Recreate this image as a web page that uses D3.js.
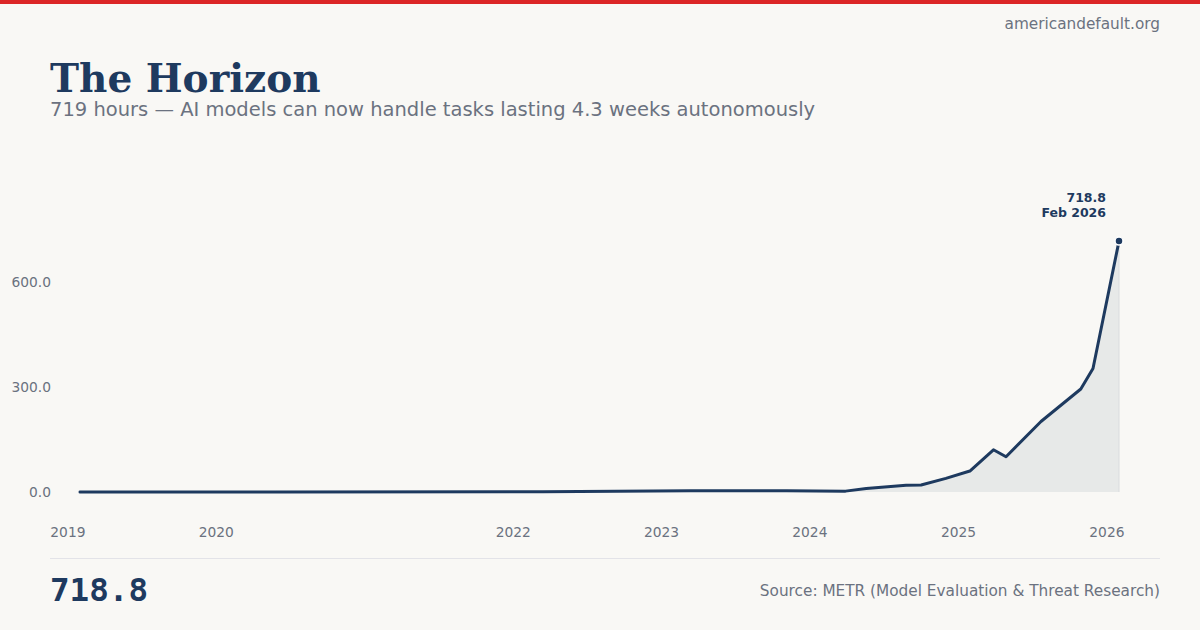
<!DOCTYPE html>
<html><head><meta charset="utf-8">
<script src="https://cdn.jsdelivr.net/npm/d3@7"></script>
<style>
html,body{margin:0;padding:0;background:#f9f8f5;}
svg{display:block;}
</style></head>
<body>
<svg id="chart" width="1200" height="630"></svg>
<script>
const dates = ["2019-02-01","2020-05-28","2022-03-15","2023-03-14","2023-11-06","2024-03-30","2024-05-20","2024-08-26","2024-10-02","2024-12-02","2025-01-30","2025-03-29","2025-04-29","2025-07-24","2025-10-30","2025-11-29","2026-02-01"];
const values = [0.1,0.2,0.5,3.5,3.8,2.5,10,19,20,39,60,121,101,202,295,354,718.8];
const yTicks = [0, 300, 600];
const xTickYears = [2019, 2020, 2022, 2023, 2024, 2025, 2026];
const title = "The Horizon";
const subtitle = "719 hours \u2014 AI models can now handle tasks lasting 4.3 weeks autonomously";
const site = "americandefault.org";
const source = "Source: METR (Model Evaluation & Threat Research)";
const lastLabel = "Feb 2026";

const parse = d3.timeParse("%Y-%m-%d");
const data = dates.map((d,i)=>({date:parse(d), value:values[i]}));
const svg = d3.select("#chart");
const navy = "#1e3a5f", gray = "#6b7280";

svg.append("rect").attr("x",0).attr("y",0).attr("width",1200).attr("height",630).attr("fill","#f9f8f5");
svg.append("rect").attr("x",0).attr("y",0).attr("width",1200).attr("height",4).attr("fill","#dc2626");

svg.append("text").attr("x",1160).attr("y",29).attr("text-anchor","end")
  .attr("font-family","DejaVu Sans").attr("font-size",15.3).attr("fill",gray).text(site);
svg.append("text").attr("x",50).attr("y",92)
  .attr("font-family","DejaVu Serif").attr("font-weight","bold").attr("font-size",39).attr("fill",navy).text(title);
svg.append("text").attr("x",50).attr("y",116)
  .attr("font-family","DejaVu Sans").attr("font-size",19.5).attr("fill",gray).text(subtitle);

const x = d3.scaleTime().domain(d3.extent(data,d=>d.date)).range([80,1119]);
const maxV = d3.max(values);
const y = d3.scaleLinear().domain([0, maxV*1.1]).range([492,216]);

const xAxis = d3.axisBottom(x).tickValues(xTickYears.map(yr=>new Date(yr,0,1))).tickFormat(d3.timeFormat("%Y")).tickSize(0);
const gx = svg.append("g").attr("transform","translate(0,524)").call(xAxis);
gx.select(".domain").remove();
gx.selectAll("text").attr("font-family","DejaVu Sans").attr("font-size",13.8).attr("fill",gray).attr("dy","0.71em");

const yAxis = d3.axisLeft(y).tickValues(yTicks).tickFormat(d3.format(".1f")).tickSize(0);
const gy = svg.append("g").attr("transform","translate(51,0)").call(yAxis);
gy.select(".domain").remove();
gy.selectAll("text").attr("font-family","DejaVu Sans").attr("font-size",13.8).attr("fill",gray).attr("x",0);

const area = d3.area().x(d=>x(d.date)).y0(y(0)).y1(d=>y(d.value));
svg.append("path").datum(data).attr("d",area).attr("fill","#1e3a5f").attr("fill-opacity",0.08);
svg.append("line").attr("x1",x(data[data.length-1].date)).attr("x2",x(data[data.length-1].date))
  .attr("y1",y(maxV)).attr("y2",y(0)).attr("stroke","#d9dbde").attr("stroke-width",1);
const line = d3.line().x(d=>x(d.date)).y(d=>y(d.value));
svg.append("path").datum(data).attr("d",line).attr("fill","none").attr("stroke",navy)
  .attr("stroke-width",3).attr("stroke-linejoin","round").attr("stroke-linecap","round");

const last = data[data.length-1];
svg.append("circle").attr("cx",x(last.date)).attr("cy",y(last.value)).attr("r",4)
  .attr("fill",navy).attr("stroke","#ffffff").attr("stroke-width",1.5);
svg.append("text").attr("x",x(last.date)-13).attr("y",y(last.value)-39).attr("text-anchor","end")
  .attr("font-family","DejaVu Sans").attr("font-weight","bold").attr("font-size",12.5).attr("fill",navy)
  .text(d3.format(".1f")(last.value));
svg.append("text").attr("x",x(last.date)-13).attr("y",y(last.value)-24).attr("text-anchor","end")
  .attr("font-family","DejaVu Sans").attr("font-weight","bold").attr("font-size",12.5).attr("fill",navy)
  .text(lastLabel);

svg.append("line").attr("x1",50).attr("x2",1160).attr("y1",558.5).attr("y2",558.5).attr("stroke","#e3e3e8").attr("stroke-width",1);
svg.append("text").attr("x",50).attr("y",601)
  .attr("font-family","DejaVu Sans Mono").attr("font-weight","bold").attr("font-size",32.6).attr("fill",navy)
  .text(d3.format(".1f")(last.value));
svg.append("text").attr("x",1160).attr("y",596).attr("text-anchor","end")
  .attr("font-family","DejaVu Sans").attr("font-size",15.3).attr("fill",gray).text(source);
</script>
</body></html>
